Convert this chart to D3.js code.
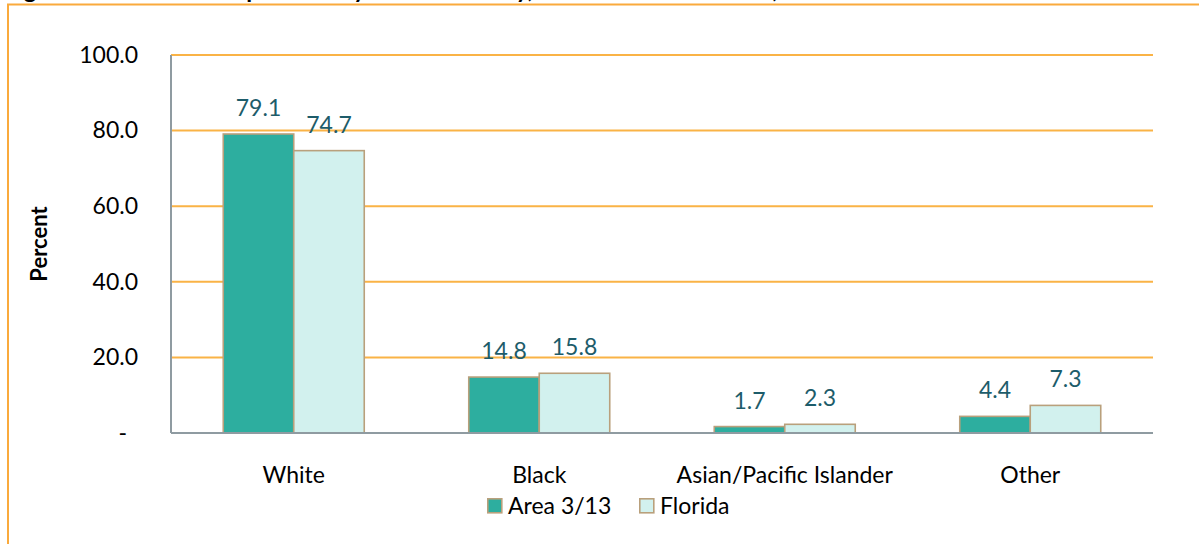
<!DOCTYPE html>
<html>
<head>
<meta charset="utf-8">
<script src="https://cdn.jsdelivr.net/npm/d3@7/dist/d3.min.js"></script>
<style>
  html, body { margin: 0; padding: 0; background: #fff; }
  svg { display: block; font-family: Lato, "Open Sans", sans-serif; }
</style>
</head>
<body>
<svg id="chart" width="1199" height="544"></svg>
<script>
// Race composition, Area 3/13 vs. statewide
const categories = ["White", "Black", "Asian/Pacific Islander", "Other"];
const seriesNames = ["Area 3/13", "Florida"];
const area313 = [79.1, 14.8, 1.7, 4.4];
const florida = [74.7, 15.8, 2.3, 7.3];
const yTicks = [0, 20, 40, 60, 80, 100];
const titleText = "Figure 3. Percent of Population by Race/Ethnicity, Area 3/13 and Florida, 2015";

const seriesFill = ["#2DAE9F", "#D2F1EE"];
const barStroke = "#B9A07C";
const gridColor = "#FAB346";
const frameColor = "#FAAA3C";
const axisColor = "#8F9BA1";
const labelColor = "#1D5C6A";

const rows = categories.map((c, i) => ({ cat: c, values: [area313[i], florida[i]] }));

const svg = d3.select("#chart");
const plot = { left: 171, right: 1153, top: 55, bottom: 433 };

// outer frame (extends past the visible page on the right and bottom)
svg.append("rect")
  .attr("x", 8).attr("y", 4.5)
  .attr("width", 1400).attr("height", 800)
  .attr("fill", "none").attr("stroke", frameColor).attr("stroke-width", 2);

// title sits above the frame, mostly cut off by the page edge
svg.append("text")
  .attr("x", 4).attr("y", -2)
  .attr("font-size", 24).attr("font-weight", "bold").attr("fill", "#000")
  .text(titleText);

const y = d3.scaleLinear().domain([0, 100]).range([plot.bottom, plot.top]);
const x0 = d3.scaleBand().domain(categories).range([plot.left, plot.right])
  .paddingInner(0.4257).paddingOuter(0.21285);
const x1 = d3.scaleBand().domain(seriesNames).range([0, x0.bandwidth()]);

// gridlines
svg.append("g").selectAll("line")
  .data(yTicks.filter(t => t > 0))
  .join("line")
  .attr("x1", plot.left).attr("x2", plot.right)
  .attr("y1", d => y(d)).attr("y2", d => y(d))
  .attr("stroke", gridColor).attr("stroke-width", 2);

// y axis labels
const yAxis = d3.axisLeft(y).tickValues(yTicks).tickSize(0).tickPadding(33)
  .tickFormat(d => d === 0 ? "-" : d3.format(".1f")(d));
const gy = svg.append("g").attr("transform", `translate(${plot.left},0)`).call(yAxis);
gy.select(".domain").remove();
gy.selectAll("text").attr("font-size", 23).attr("fill", "#000")
  .attr("font-family", "Lato, sans-serif")
  .filter(d => d === 0).attr("dx", -11);

// y axis line
svg.append("line")
  .attr("x1", plot.left).attr("x2", plot.left)
  .attr("y1", plot.top).attr("y2", plot.bottom)
  .attr("stroke", axisColor).attr("stroke-width", 2);

// bars
const groups = svg.append("g").selectAll("g")
  .data(rows).join("g")
  .attr("transform", d => `translate(${x0(d.cat)},0)`);

groups.selectAll("rect")
  .data(d => d.values.map((v, i) => ({ s: seriesNames[i], v, i })))
  .join("rect")
  .attr("x", d => x1(d.s))
  .attr("y", d => y(d.v))
  .attr("width", x1.bandwidth())
  .attr("height", d => y(0) - y(d.v))
  .attr("fill", d => seriesFill[d.i])
  .attr("stroke", barStroke).attr("stroke-width", 1.6);

// value labels
groups.selectAll("text")
  .data(d => d.values.map((v, i) => ({ s: seriesNames[i], v, i })))
  .join("text")
  .attr("x", d => x1(d.s) + x1.bandwidth() / 2)
  .attr("y", d => y(d.v) - 18)
  .attr("text-anchor", "middle")
  .attr("font-size", 23).attr("fill", labelColor)
  .text(d => d3.format(".1f")(d.v));

// x axis line
svg.append("line")
  .attr("x1", plot.left).attr("x2", plot.right)
  .attr("y1", plot.bottom).attr("y2", plot.bottom)
  .attr("stroke", axisColor).attr("stroke-width", 2);

// category labels
const xAxis = d3.axisBottom(x0).tickSize(0).tickPadding(34);
const gx = svg.append("g").attr("transform", `translate(0,${plot.bottom})`).call(xAxis);
gx.select(".domain").remove();
gx.selectAll("text").attr("font-size", 23).attr("fill", "#000")
  .attr("font-family", "Lato, sans-serif");

// y axis title
svg.append("text")
  .attr("transform", `translate(47,${(plot.top + plot.bottom) / 2}) rotate(-90)`)
  .attr("text-anchor", "middle")
  .attr("font-size", 22).attr("font-weight", "bold").attr("fill", "#000")
  .text("Percent");

// legend
const legendX = [487, 639];
const legend = svg.append("g").selectAll("g")
  .data(seriesNames).join("g")
  .attr("transform", (d, i) => `translate(${legendX[i]},498)`);
legend.append("rect")
  .attr("x", 0.8).attr("y", 0.8).attr("width", 14).attr("height", 14)
  .attr("fill", (d, i) => seriesFill[i])
  .attr("stroke", barStroke).attr("stroke-width", 1.6);
legend.append("text")
  .attr("x", 21).attr("y", 15.5)
  .attr("font-size", 23).attr("fill", "#000")
  .text(d => d);
</script>
</body>
</html>
